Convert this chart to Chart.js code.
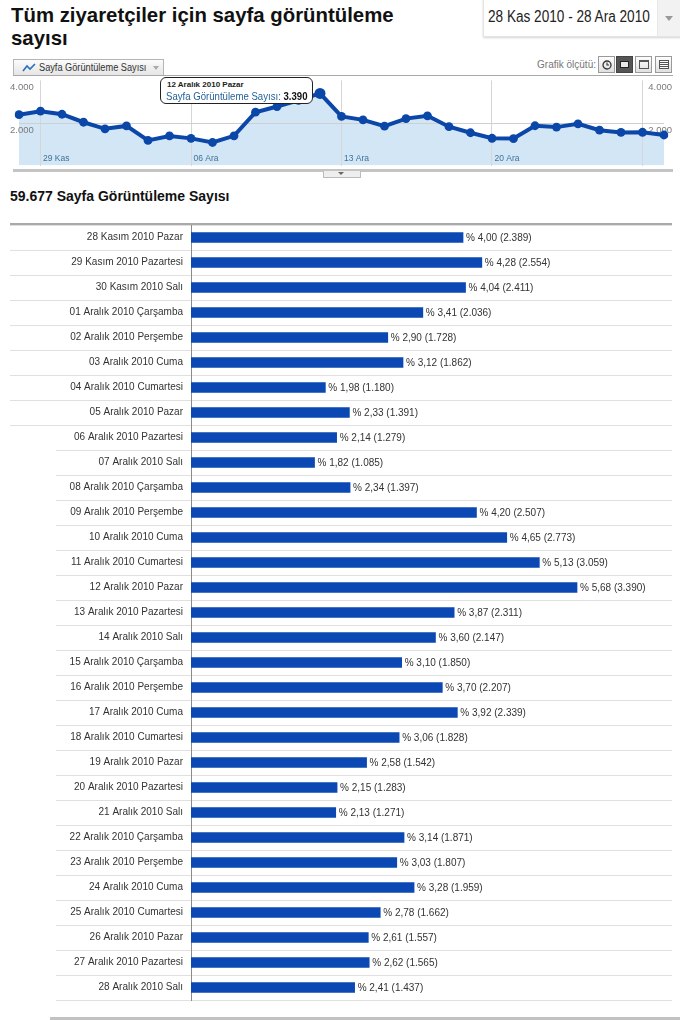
<!DOCTYPE html>
<html><head><meta charset="utf-8">
<script src="https://cdn.jsdelivr.net/npm/chart.js@4.4.0/dist/chart.umd.min.js"></script>
<style>
html,body{margin:0;padding:0}
body{width:680px;height:1020px;position:relative;background:#fff;font-family:"Liberation Sans",Arial,sans-serif;overflow:hidden}
.a{position:absolute}
.sx{display:inline-block;transform-origin:0 50%;white-space:nowrap}
#title{left:11px;top:3px;font-size:21px;font-weight:bold;line-height:23px;color:#111;white-space:nowrap;transform:scaleX(0.97);transform-origin:0 0}
#date{left:483px;top:-1px;width:196px;height:36px;border:1px solid #e4e4e4;box-shadow:0 1px 2px #d4d4d4;background:#fff}
#date .t{position:absolute;left:4px;top:8px;font-size:16px;color:#222;transform:scaleX(0.85)}
#date .dd{position:absolute;left:173px;top:0;width:23px;height:36px;background:#f2f2f2;border-left:1px solid #e8e8e8}
.tri{width:0;height:0;border-left:4px solid transparent;border-right:4px solid transparent;border-top:5px solid #999;position:absolute}
#tab{left:13px;top:59px;width:149px;height:16px;border:1px solid #b5b5b5;border-bottom:none;background:linear-gradient(#fbfbfb,#e4e4e4)}
#tab .t{position:absolute;left:25px;top:2px;font-size:10px;color:#333;transform:scaleX(0.92)}
#grafik{left:470px;top:59px;width:126px;text-align:right;font-size:10px;color:#777}
.btn{top:56px;width:17px;height:17px;border:1px solid #9a9a9a;background:linear-gradient(#fdfdfd,#e0e0e0);box-sizing:border-box}
#frameTop{left:13px;top:75px;width:660px;height:1px;background:#a8a8a8}
#frameBot{left:13px;top:169px;width:660px;height:3px;background:#c4c4c4}
#handle{left:323px;top:171px;width:36px;height:6px;border:1px solid #bbb;border-top:none;background:#eee}
#tip{left:160px;top:77px;width:151px;height:25px;border:1.5px solid #222;border-radius:6px;background:#fff}
#tip .l1{position:absolute;left:6px;top:2px;font-size:8px;font-weight:bold;color:#222;white-space:nowrap}
#tip .l2{position:absolute;left:5px;top:12px;font-size:10.5px;color:#1f5e96;transform:scaleX(0.915)}
#tip .l2 b{color:#111}
#sum{left:10px;top:188px;font-size:14px;font-weight:bold;color:#111;white-space:nowrap}
#tblTop{left:10px;top:223px;width:662px;height:2px;background:#a9a9a9}
#mask{left:0;top:427px;width:56px;height:575px;background:#fff}
#tblBot{left:50px;top:1017px;width:630px;height:3px;background:#c2c2c2}
</style></head>
<body>
<div id="title" class="a">Tüm ziyaretçiler için sayfa görüntüleme<br>sayısı</div>
<div id="date" class="a"><span class="t sx">28 Kas 2010 - 28 Ara 2010</span><div class="dd"><div class="tri" style="left:7px;top:16px"></div></div></div>
<div id="tab" class="a"><svg class="a" style="left:8px;top:3px" width="14" height="10"><polyline points="1,8 5,3 8,6 13,1" fill="none" stroke="#2a6fc0" stroke-width="1.6"/></svg><span class="t sx">Sayfa Görüntüleme Sayısı</span><div class="tri" style="left:139px;top:6px;border-top-color:#aaa;border-left-width:3px;border-right-width:3px;border-top-width:4px"></div></div>
<div id="grafik" class="a">Grafik ölçütü:</div>
<div class="a btn" style="left:598px"><svg class="a" style="left:3px;top:3px" width="10" height="10"><circle cx="5" cy="5" r="4" fill="none" stroke="#333" stroke-width="1.3"/><polyline points="5,2.5 5,5 7,5" fill="none" stroke="#333" stroke-width="1.1"/></svg></div>
<div class="a btn" style="left:616px;background:#555;border-color:#444"><div class="a" style="left:3px;top:4px;width:9px;height:7px;background:#e8e8e8;border:1px solid #222;box-sizing:border-box"></div></div>
<div class="a btn" style="left:635px"><div class="a" style="left:3px;top:3px;width:10px;height:9px;border:1px solid #555;box-sizing:border-box;border-top-width:2px"></div></div>
<div class="a btn" style="left:655px"><div class="a" style="left:3px;top:3px;width:10px;height:9px;border:1px solid #555;box-sizing:border-box;background:repeating-linear-gradient(#fff 0,#fff 1px,#555 1px,#555 2px)"></div></div>
<div id="frameTop" class="a"></div>
<canvas id="line" class="a" style="left:10px;top:76px" width="665" height="94"></canvas>
<div id="frameBot" class="a"></div>
<div id="handle" class="a"><div class="tri" style="left:14px;top:1px;border-top-color:#666;border-left-width:3px;border-right-width:3px;border-top-width:3px"></div></div>
<div id="tip" class="a"><div class="l1">12 Aralık 2010 Pazar</div><span class="l2 sx">Sayfa Görüntüleme Sayısı: <b>3.390</b></span></div>
<div id="sum" class="a">59.677 Sayfa Görüntüleme Sayısı</div>
<canvas id="bar" class="a" style="left:0;top:225px" width="680" height="776"></canvas>
<div id="tblTop" class="a"></div>
<div id="mask" class="a"></div>
<div id="tblBot" class="a"></div>
<script>
const dayLabels = [
 '28 Kasım 2010 Pazar','29 Kasım 2010 Pazartesi','30 Kasım 2010 Salı','01 Aralık 2010 Çarşamba',
 '02 Aralık 2010 Perşembe','03 Aralık 2010 Cuma','04 Aralık 2010 Cumartesi','05 Aralık 2010 Pazar',
 '06 Aralık 2010 Pazartesi','07 Aralık 2010 Salı','08 Aralık 2010 Çarşamba','09 Aralık 2010 Perşembe',
 '10 Aralık 2010 Cuma','11 Aralık 2010 Cumartesi','12 Aralık 2010 Pazar','13 Aralık 2010 Pazartesi',
 '14 Aralık 2010 Salı','15 Aralık 2010 Çarşamba','16 Aralık 2010 Perşembe','17 Aralık 2010 Cuma',
 '18 Aralık 2010 Cumartesi','19 Aralık 2010 Pazar','20 Aralık 2010 Pazartesi','21 Aralık 2010 Salı',
 '22 Aralık 2010 Çarşamba','23 Aralık 2010 Perşembe','24 Aralık 2010 Cuma','25 Aralık 2010 Cumartesi',
 '26 Aralık 2010 Pazar','27 Aralık 2010 Pazartesi','28 Aralık 2010 Salı'];
const pageViews = [2389,2554,2411,2036,1728,1862,1180,1391,1279,1085,1397,2507,2773,3059,3390,2311,
 2147,1850,2207,2339,1828,1542,1283,1271,1871,1807,1959,1662,1557,1565,1437];
const percents = [4.00,4.28,4.04,3.41,2.90,3.12,1.98,2.33,2.14,1.82,2.34,4.20,4.65,5.13,5.68,3.87,
 3.60,3.10,3.70,3.92,3.06,2.58,2.15,2.13,3.14,3.03,3.28,2.78,2.61,2.62,2.41];
const weekTickIdx = [1,8,15,22,29];
const weekTickLabels = ['29 Kas','06 Ara','13 Ara','20 Ara',''];
const yTicks = [0,2000,4000];
const highlightIdx = 14;

const FONT = '"Liberation Sans", Arial, sans-serif';
const fmt = n => String(n).replace(/\B(?=(\d{3})+(?!\d))/g, '.');
const fmtPct = p => p.toFixed(2).replace('.', ',');
const LINE = '#0a47a9';

// y labels: drawn over the fill, under the line (as in the reference)
const yLabels = {
  id: 'yLabels',
  beforeDatasetsDraw(chart) {
    const {ctx, chartArea} = chart;
    const y = chart.scales.y;
    ctx.save();
    ctx.font = '9.5px ' + FONT;
    ctx.fillStyle = '#7a7a7a';
    ctx.textBaseline = 'middle';
    yTicks.forEach(v => {
      if (!v) return;
      const py = y.getPixelForValue(v) + 7;
      ctx.textAlign = 'left';
      ctx.fillText(fmt(v), chartArea.left - 9, py);
      ctx.textAlign = 'right';
      ctx.fillText(fmt(v), chartArea.right + 8, py);
    });
    ctx.restore();
  }
};
const weekLabels = {
  id: 'weekLabels',
  afterDatasetsDraw(chart) {
    const {ctx, chartArea} = chart;
    const x = chart.scales.x;
    ctx.save();
    ctx.font = '8.5px ' + FONT;
    ctx.fillStyle = '#3f7299';
    ctx.textBaseline = 'middle';
    ctx.textAlign = 'left';
    weekTickIdx.forEach((idx, k) => {
      if (weekTickLabels[k]) ctx.fillText(weekTickLabels[k], x.getPixelForValue(idx) + 2.5, chartArea.bottom - 6.5);
    });
    ctx.restore();
  }
};

new Chart(document.getElementById('line'), {
  type: 'line',
  data: {labels: dayLabels, datasets: [{
    data: pageViews, borderColor: LINE, borderWidth: 4, tension: 0,
    fill: 'origin', backgroundColor: '#d3e6f6',
    pointRadius: c => c.dataIndex === highlightIdx ? 5.5 : 4.4,
    pointBackgroundColor: LINE, pointBorderWidth: 0
  }]},
  options: {
    responsive: false, animation: false, events: [],
    layout: {padding: {left: 9, right: 11, top: 1, bottom: 1}},
    plugins: {legend: {display: false}, tooltip: {enabled: false}, filler: {drawTime: 'beforeDraw'}},
    scales: {
      x: {
        afterFit: s => { s.height = 0; },
        border: {display: false},
        grid: {drawTicks: false, color: c => weekTickIdx.includes(c.index) ? '#d6d6d6' : 'transparent'},
        ticks: {display: false}
      },
      y: {
        min: 0, max: 4000,
        afterBuildTicks: s => { s.ticks = yTicks.map(v => ({value: v})); },
        afterFit: s => { s.width = 0; },
        border: {display: false},
        grid: {drawTicks: false, color: c => c.tick && c.tick.value === 2000 ? '#cfcfcf' : 'transparent'},
        ticks: {display: false}
      }
    }
  },
  plugins: [yLabels, weekLabels]
});

const valueLabels = {
  id: 'valueLabels',
  afterDatasetsDraw(chart) {
    const ctx = chart.ctx;
    const meta = chart.getDatasetMeta(0);
    ctx.save();
    ctx.font = '10px ' + FONT;
    ctx.fillStyle = '#333';
    ctx.textBaseline = 'middle';
    ctx.textAlign = 'left';
    meta.data.forEach((el, i) => {
      ctx.fillText('% ' + fmtPct(percents[i]) + ' (' + fmt(pageViews[i]) + ')', el.x + 3, el.y + 0.5);
    });
    ctx.restore();
  }
};

new Chart(document.getElementById('bar'), {
  type: 'bar',
  data: {labels: dayLabels, datasets: [{data: pageViews, backgroundColor: '#0b48b4', barThickness: 10, borderWidth: 0}]},
  options: {
    indexAxis: 'y', responsive: false, animation: false, events: [],
    layout: {padding: {left: 0, right: 8, top: 0, bottom: 1}},
    plugins: {legend: {display: false}, tooltip: {enabled: false}},
    scales: {
      x: {display: false, min: 0, max: 4224},
      y: {
        afterFit: s => { s.width = 191; },
        border: {display: true, color: '#8a8a8a', width: 1},
        grid: {color: '#e0e0e0', lineWidth: 1, drawTicks: true, tickLength: 181, offset: true},
        ticks: {padding: -173, color: '#333', font: {family: FONT, size: 10}, autoSkip: false}
      }
    }
  },
  plugins: [valueLabels]
});
</script>
</body></html>
